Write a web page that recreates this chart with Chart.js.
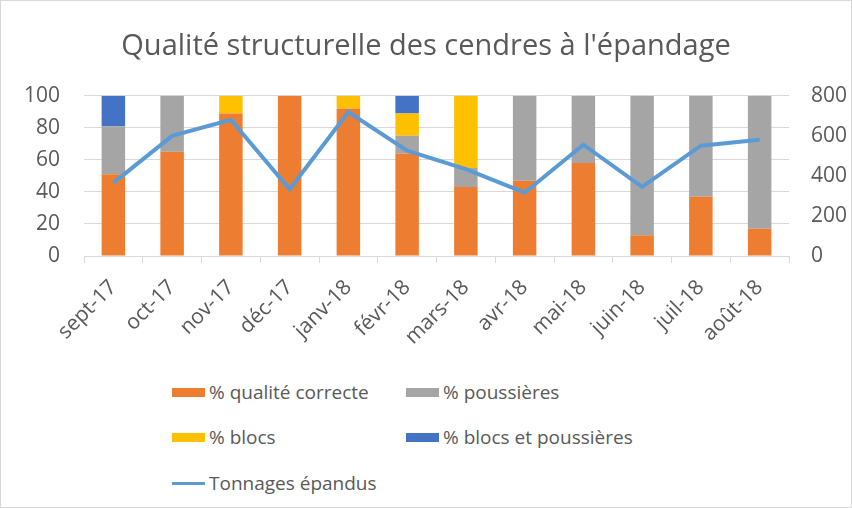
<!DOCTYPE html>
<html>
<head>
<meta charset="utf-8">
<script src="https://cdn.jsdelivr.net/npm/chart.js@4"></script>
<style>
  body { margin: 0; background: #fff; }
  #cadre { position: relative; width: 850px; height: 506px; border: 1px solid #d9d9d9; background: #fff; }
  #zone { position: absolute; left: 0; top: 0; width: 850px; height: 365px; }
  #legende { position: absolute; left: 171px; top: 377px; font-family: "Open Sans", sans-serif; font-size: 19px; color: #595959; }
  .item { position: absolute; white-space: nowrap; display: flex; align-items: center; height: 28px; }
  .carre { width: 33px; height: 9px; margin-right: 4px; }
  .trait { width: 33px; height: 3px; margin-right: 4px; }
</style>
</head>
<body>
<div id="cadre">
  <div id="zone"><canvas id="graphique"></canvas></div>
  <div id="legende"></div>
</div>
<script>
// données
const mois = ['sept-17', 'oct-17', 'nov-17', 'déc-17', 'janv-18', 'févr-18', 'mars-18', 'avr-18', 'mai-18', 'juin-18', 'juil-18', 'août-18'];
const qualiteCorrecte = [51, 65, 89, 100, 92, 64, 43, 47, 58, 13, 37, 17];
const poussieres = [30, 35, 0, 0, 0, 11, 12, 53, 42, 87, 63, 83];
const blocs = [0, 0, 11, 0, 8, 14, 45, 0, 0, 0, 0, 0];
const blocsEtPoussieres = [19, 0, 0, 0, 0, 11, 0, 0, 0, 0, 0, 0];
const tonnages = [365, 600, 680, 333, 719, 526, 434, 316, 556, 345, 551, 580];
const ticksGauche = [0, 20, 40, 60, 80, 100];
const ticksDroite = [0, 200, 400, 600, 800];

const gris = '#595959';
const police = '"Open Sans", sans-serif';

const series = [
    { label: '% qualité correcte', data: qualiteCorrecte, couleur: '#ed7d31' },
    { label: '% poussières', data: poussieres, couleur: '#a5a5a5' },
    { label: '% blocs', data: blocs, couleur: '#ffc000' },
    { label: '% blocs et poussières', data: blocsEtPoussieres, couleur: '#4472c4' }
];

const datasets = [{
    type: 'line',
    label: 'Tonnages épandus',
    data: tonnages,
    yAxisID: 'y2',
    borderColor: '#5b9bd5',
    borderWidth: 4,
    pointRadius: 0,
    tension: 0,
    order: 0
}];
series.forEach(function (s) {
    datasets.push({
        type: 'bar',
        label: s.label,
        data: s.data,
        backgroundColor: s.couleur,
        yAxisID: 'y',
        barPercentage: 0.4,
        categoryPercentage: 1,
        order: 1
    });
});

new Chart(document.getElementById('graphique'), {
    data: { labels: mois, datasets: datasets },
    options: {
        responsive: true,
        maintainAspectRatio: false,
        animation: false,
        layout: { padding: 0 },
        plugins: {
            legend: { display: false },
            tooltip: { enabled: false },
            title: {
                display: true,
                text: "Qualité structurelle des cendres à l'épandage",
                color: gris,
                font: { family: police, size: 29, weight: 'normal' },
                padding: { top: 28, bottom: 32 }
            }
        },
        scales: {
            x: {
                stacked: true,
                afterFit: function (axe) { axe.height = 110; },
                grid: { offset: true, drawOnChartArea: false, color: '#d9d9d9', tickLength: 7 },
                border: { color: '#d9d9d9' },
                ticks: { color: gris, font: { family: police, size: 21 }, maxRotation: 45, minRotation: 45, padding: 12 }
            },
            y: {
                stacked: true,
                position: 'left',
                min: 0,
                max: 100,
                afterFit: function (axe) { axe.width = 83; },
                afterBuildTicks: function (axe) { axe.ticks = ticksGauche.map(v => ({ value: v })); },
                grid: { color: '#d9d9d9', drawTicks: false },
                border: { display: false },
                ticks: { color: gris, font: { family: police, size: 21 }, padding: 24 }
            },
            y2: {
                position: 'right',
                min: 0,
                max: 800,
                afterFit: function (axe) { axe.width = 62; },
                afterBuildTicks: function (axe) { axe.ticks = ticksDroite.map(v => ({ value: v })); },
                grid: { drawOnChartArea: false, drawTicks: false },
                border: { display: false },
                ticks: { color: gris, font: { family: police, size: 21 }, padding: 22 }
            }
        }
    }
});

// légende en deux colonnes, comme dans Excel
const legende = document.getElementById('legende');
const positions = [[0, 0], [234, 0], [0, 45], [234, 45], [0, 91]];
series.forEach(function (s, i) {
    const div = document.createElement('div');
    div.className = 'item';
    div.style.left = positions[i][0] + 'px';
    div.style.top = positions[i][1] + 'px';
    div.innerHTML = '<span class="carre" style="background:' + s.couleur + '"></span>' + s.label;
    legende.appendChild(div);
});
const ligne = document.createElement('div');
ligne.className = 'item';
ligne.style.left = positions[4][0] + 'px';
ligne.style.top = positions[4][1] + 'px';
ligne.innerHTML = '<span class="trait" style="background:#5b9bd5"></span>Tonnages épandus';
legende.appendChild(ligne);
</script>
</body>
</html>
